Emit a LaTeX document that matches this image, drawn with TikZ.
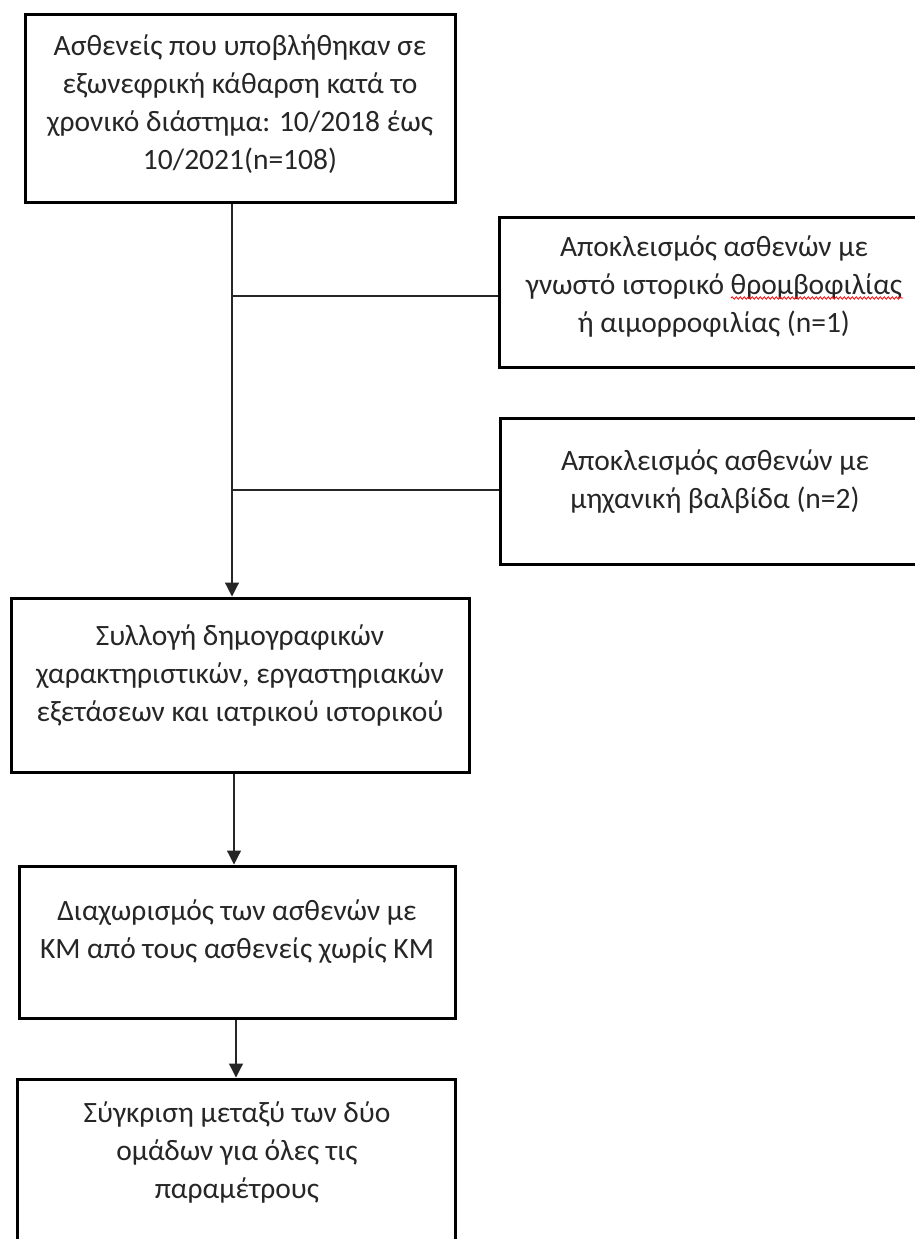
\documentclass[tikz,border=0pt]{standalone}
\usepackage{fontspec}
\setmainfont{Carlito}
\usetikzlibrary{arrows.meta,decorations.pathmorphing}
\begin{document}
\begin{tikzpicture}[x=1pt,y=-1pt,
  box/.style={draw=black,line width=3pt,rectangle,inner sep=0pt},
  txt/.style={align=center,inner sep=0pt,text=black!85,font=\fontsize{29.5}{38}\selectfont},
  conn/.style={draw=black!85,line width=1.2pt},
  arr/.style={conn,-{Triangle[width=14pt,length=14pt]}}]
\clip (0,0) rectangle (915,1239);
\fill[white] (0,0) rectangle (915,1239);
% boxes
\node[box,minimum width=430pt,minimum height=187pt] (b1) at (240,108.5) {};
\node[box,minimum width=426pt,minimum height=150pt] (b2) at (712,292) {};
\node[box,minimum width=425pt,minimum height=146pt] (b3) at (712.5,491) {};
\node[box,minimum width=458pt,minimum height=174pt] (b4) at (240,685) {};
\node[box,minimum width=436pt,minimum height=152pt] (b5) at (237,942) {};
\node[box,minimum width=438pt,minimum height=181pt] (b6) at (236,1169.5) {};
% texts
\node[txt] (t1) at (240,104) {Ασθενείς που υποβλήθηκαν σε\\εξωνεφρική κάθαρση κατά το\\χρονικό διάστημα: 10/2018 έως\\10/2021(n=108)};
\node[txt] (t2) at (714,286) {Αποκλεισμός ασθενών με\\γνωστό ιστορικό θρομβοφιλίας\\ή αιμορροφιλίας (n=1)};
\node[txt] (t3) at (715,482) {Αποκλεισμός ασθενών με\\μηχανική βαλβίδα (n=2)};
\node[txt] (t4) at (240,675) {Συλλογή δημογραφικών\\χαρακτηριστικών, εργαστηριακών\\εξετάσεων και ιατρικού ιστορικού};
\node[txt] (t5) at (237,932) {Διαχωρισμός των ασθενών με\\ΚΜ από τους ασθενείς χωρίς ΚΜ};
\node[txt] (t6) at (237,1152) {Σύγκριση μεταξύ των δύο\\ομάδων για όλες τις\\παραμέτρους};
% spell-check squiggle
\coordinate (s1) at (731,298);
\coordinate (s2) at (903,298);
\draw[red,line width=0.8pt,decorate,decoration={snake,amplitude=1.2pt,segment length=4pt}] (s1) -- (s2);
% connectors
\coordinate (j1) at (232,296);
\coordinate (j2) at (232,490);
\draw[arr] (b1.south -| j1) -- (b4.north -| j1);
\draw[conn] (j1) -- (b2.west |- j1);
\draw[conn] (j2) -- (b3.west |- j2);
\coordinate (k1) at (234,0);
\draw[arr] (b4.south -| k1) -- (b5.north -| k1);
\coordinate (k2) at (236,0);
\draw[arr] (b5.south -| k2) -- (b6.north -| k2);
\end{tikzpicture}
\end{document}
